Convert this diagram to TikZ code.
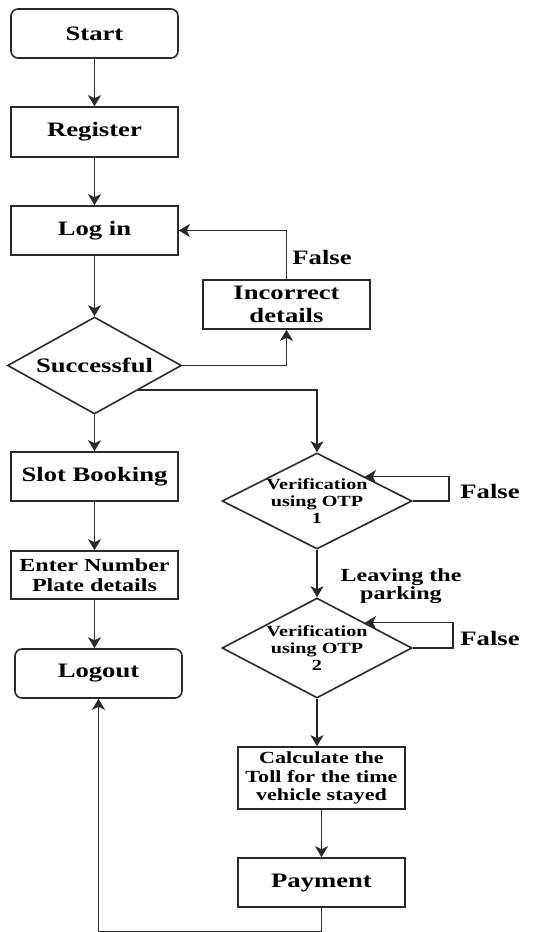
\documentclass[tikz,border=0pt]{standalone}
\usepackage{fontspec}
\setmainfont{Liberation Serif}[FakeStretch=1.3]
\usetikzlibrary{shapes.geometric,arrows.meta}
\definecolor{linec}{HTML}{2A2A2A}
\tikzset{
  base/.style={draw=linec, line width=1.6pt, font=\fontsize{20.5}{23}\selectfont\bfseries, align=center, inner sep=0pt},
  procbox/.style={base, rectangle, minimum width=167pt, minimum height=49pt},
  termbox/.style={procbox, rounded corners=7pt},
  decis/.style={base, diamond, aspect=2},
  conn/.style={draw=linec, line width=1.6pt, -{Stealth[length=11pt,width=13pt,inset=3pt]}},
  lbl/.style={font=\fontsize{20.5}{23}\selectfont\bfseries, align=center, inner sep=0pt},
  smalllbl/.style={font=\fontsize{18.5}{18}\selectfont\bfseries, align=center, inner sep=0pt},
  otptext/.style={font=\fontsize{15.5}{17}\selectfont\bfseries, align=center, inner sep=0pt},
  calctext/.style={font=\fontsize{17}{18.5}\selectfont\bfseries}
}
\begin{document}
\begin{tikzpicture}[x=1pt,y=-1pt]
\useasboundingbox (0,0) rectangle (544,932);
% left column
\node[termbox] (start) at (94.5,33.5) {Start};
\node[procbox, minimum height=50pt] (reg) at (94.5,132) {Register};
\node[procbox] (login) at (94.5,230.5) {Log in};
\node[decis, minimum width=174pt, minimum height=97pt] (succ) at (94.5,365.5) {Successful};
\node[procbox] (slot) at (94.5,476.5) {Slot Booking};
\node[procbox, minimum height=48pt, font=\fontsize{18.5}{20}\selectfont\bfseries] (enter) at (94.5,575) {Enter Number\\Plate details};
\node[termbox] (logout) at (98.5,673.5) {Logout};
% right side
\node[procbox] (inc) at (286.5,304.5) {Incorrect\\details};
\node[decis, minimum width=190pt, minimum height=96pt, label={[otptext]center:Verification\\using OTP\\1}] (otp1) at (317,501) {};
\node[decis, minimum width=190pt, minimum height=100pt, label={[otptext]center:Verification\\using OTP\\2}] (otp2) at (317,648) {};
\node[procbox, minimum height=62pt, calctext] (calc) at (321.5,778) {Calculate the\\Toll for the time\\vehicle stayed};
\node[procbox] (pay) at (321.5,882.5) {Payment};
% labels
\node[lbl] (f0) at (322,257) {False};
\node[lbl] (f1) at (490,491) {False};
\node[lbl] (f2) at (490,638) {False};
\node[smalllbl] (leave) at (401,586) {Leaving the\\parking};
% connectors
\draw[conn] (start) -- (reg);
\draw[conn] (reg) -- (login);
\draw[conn] (login) -- (succ);
\draw[conn] (succ.east) -| (inc.south);
\draw[conn] (inc.north) |- (login.east);
\draw[conn] (succ) -- (slot);
\draw[conn] (slot) -- (enter);
\draw[conn] (enter.south) -- (enter.south |- logout.north);
\draw[conn] (succ.south east) -| (otp1.north);
\draw[conn] (otp1.east) -- ++(36,0) |- (otp1.north east);
\draw[conn] (otp1.south) -- (otp2.north);
\draw[conn] (otp2.east) -- ++(40,0) |- (otp2.north east);
\draw[conn] (otp2.south) -- (otp2.south |- calc.north);
\draw[conn] (calc) -- (pay);
\draw[conn] (pay.south) -- ++(0,24) -| (logout.south);
\end{tikzpicture}
\end{document}
